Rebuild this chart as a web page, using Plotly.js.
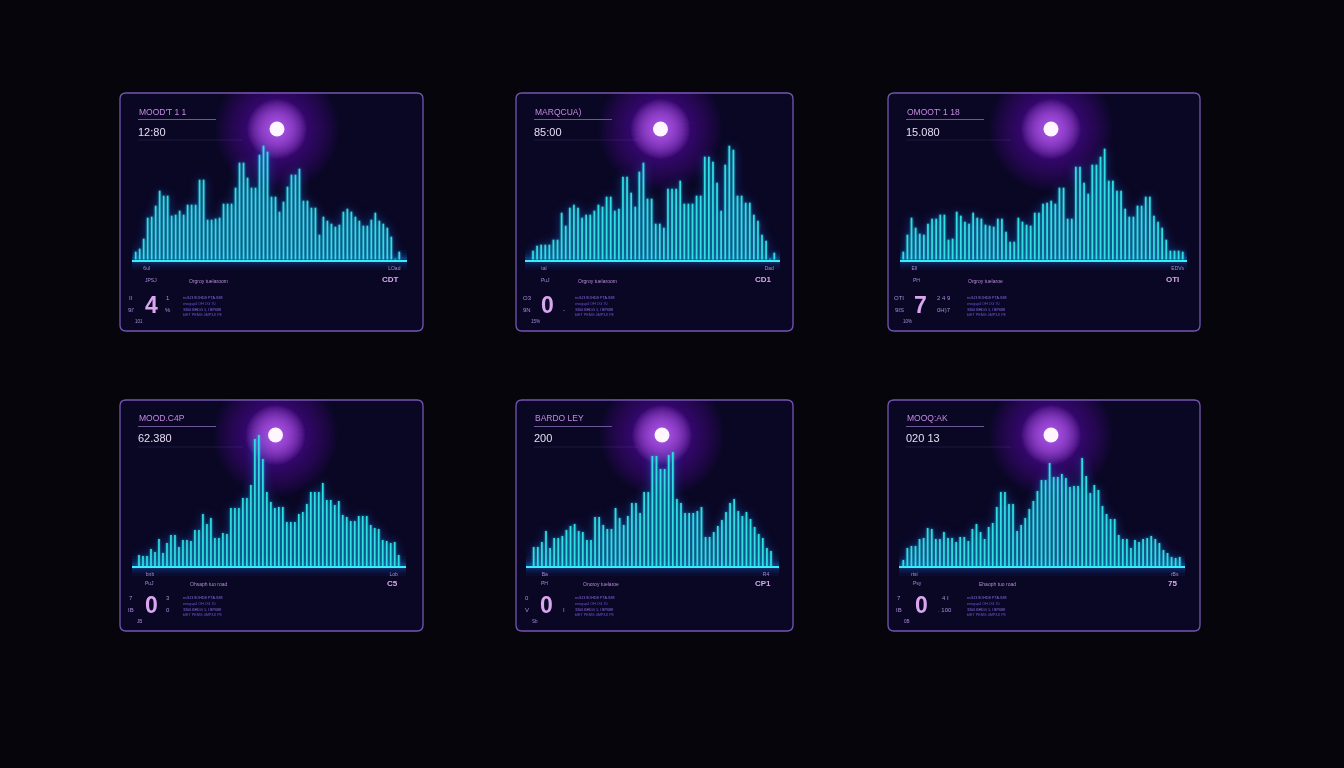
<!DOCTYPE html>
<html><head><meta charset="utf-8">
<script src="https://cdn.plot.ly/plotly-3.0.1.min.js"></script>
<style>
html,body{margin:0;padding:0;background:#06050b;overflow:hidden}
#chart{width:1344px;height:768px}
.subplot:not(.xy) .barlayer{filter:drop-shadow(0 0 1px rgba(40,230,240,.7)) drop-shadow(0 0 5px rgba(20,120,250,.6))}
</style></head><body><div id="chart"></div>
<script>
// ---- values ----
const seriesA=[8,11,21,42,43,54,69,64,64,44,45,49,45,55,55,55,80,80,40,40,41,42,56,56,56,72,97,97,82,72,72,105,114,108,63,63,48,58,73,85,85,91,59,59,52,52,25,43,39,36,33,35,48,51,48,43,39,34,34,40,47,39,36,32,23,1,8];
const seriesB=[9,14,15,15,15,20,20,47,34,52,55,52,42,45,45,49,55,53,63,63,49,51,83,83,67,53,88,97,61,61,36,36,32,71,71,71,79,56,56,56,64,64,103,103,98,77,49,95,114,110,64,64,57,57,45,39,25,19,1,7];
const seriesC=[8,25,42,32,26,25,36,41,41,45,45,20,21,48,44,38,36,47,42,41,35,34,33,41,41,28,18,18,42,38,35,34,47,47,56,57,59,56,72,72,41,41,93,93,77,66,95,95,103,111,79,79,69,69,51,43,43,54,54,63,63,44,38,32,20,9,9,9,8];
const seriesD=[11,10,10,17,14,27,13,23,31,31,19,26,26,25,36,36,52,42,48,28,28,33,32,58,58,58,68,68,81,127,131,107,74,64,58,59,59,44,44,44,52,54,62,74,74,74,83,66,66,61,65,51,49,45,45,50,50,50,41,38,37,26,25,23,24,11];
const seriesE=[19,19,24,35,18,28,28,30,36,40,42,35,34,26,26,49,49,41,37,37,58,48,41,50,63,63,53,74,74,110,110,97,97,111,114,67,63,53,53,53,55,59,29,29,34,40,46,54,63,67,55,50,54,47,39,32,28,18,15];
const seriesF=[6,18,20,20,27,28,38,37,27,27,34,28,28,24,29,29,25,37,42,34,27,39,43,59,74,74,62,62,35,41,48,57,65,75,86,86,103,89,89,92,88,79,80,80,108,90,73,81,76,60,52,47,47,31,27,27,18,26,24,27,28,30,27,23,16,13,9,8,9];
const panelTitles=["MOOD'T 1 1","MARQCUA)","OMOOT' 1 18","MOOD.C4P","BARDO LEY","MOOQ:AK"];
const panelValues=["12:80","85:00","15.080","62.380","200","020 13"];
const bigDigits=["4","0","7","0","0","0"];
const centerLabels=["Orgroy tuelaroom","Orgroy tuelaroom","Orgroy tuelaroe","Ohsaph tuo road","Onoroy tuelaroe","Ehaoph tuo road"];
const leftTicks=["6ul","tal","Ell","bnb","Ba","rtsi"];
const rightTicks=["LOad","Dad","EDVs","Lob","R4","rBs"];
const leftSub=["JPSJ","PuJ","PH","PuJ","PH","Psy"];
const rightSub=["CDT","CD1","OTI","C5","CP1","75"];
const sideA=["II","O3","OTI","7","0","7"];
const sideB=["9I'","9N","9IS","IB","V","IB"];
const sideC=["1","","2 4 9","3","","4 I"];
const sideD=["%","-","0H)7","0","I",". 100"];
const footLabels=["101","15%","10%","JB","Sb","0B"];
const noteLines=["nsSJ3 8OHDB PTA.S88","enogsp4 OH OG 70","3306 BHDG 1, I BP688","bIET PEMG 0MP3JI P8"];
// ---------------------------------------

const series=[seriesA,seriesB,seriesC,seriesD,seriesE,seriesF];
const geo=[
 {box:[120,93,423,331],base:259.7,line:[132,407],bars:[135.7,399.3],orb:[277,129],cx:68,nx:62,dx:31,sx:48},
 {box:[516,93,793,331],base:259.7,line:[525,780],bars:[533,774.3],orb:[660.5,129],cx:61,nx:58,dx:31,sx:48},
 {box:[888,93,1200,331],base:259.7,line:[900,1187],bars:[903.3,1182.7],orb:[1051,129],cx:79,nx:78,dx:32,sx:56},
 {box:[120,400,423,631],base:566,line:[132,406],bars:[139,398.7],orb:[275.5,435],cx:69,nx:62,dx:31,sx:48},
 {box:[516,400,793,631],base:566,line:[526,779],bars:[533.7,771],orb:[662,435],cx:66,nx:58,dx:30,sx:48},
 {box:[888,400,1200,631],base:566,line:[899,1185],bars:[903.3,1179.7],orb:[1051,435],cx:90,nx:78,dx:33,sx:57}
];
const W=1344,H=768,BG='#06050b',CY='#2fdfe2',PINK='#dba6f0',LILAC='#a88cd8',NOTE='#6a55e0';
const FF='"Liberation Sans",sans-serif';
const traces=[],shapes=[],covers=[],ann=[];
const layout={width:W,height:H,margin:{l:0,r:0,t:0,b:0},paper_bgcolor:BG,plot_bgcolor:'rgba(0,0,0,0)',showlegend:false,barmode:'overlay',
 xaxis:{domain:[0,1],range:[0,W],visible:false,fixedrange:true},
 yaxis:{domain:[0,1],range:[H,0],visible:false,fixedrange:true}};
function txt(x,y,text,size,color,anchor,weight){
 ann.push({xref:'x',yref:'y',x:x,y:y,text:text,showarrow:false,xanchor:anchor||'left',yanchor:'middle',borderpad:0,
  font:{family:FF,size:size,color:color,weight:weight||400}});
}
function rrect(b,r){const [a,c,d,e]=b;return `M${a+r},${c}L${d-r},${c}Q${d},${c} ${d},${c+r}L${d},${e-r}Q${d},${e} ${d-r},${e}L${a+r},${e}Q${a},${e} ${a},${e-r}L${a},${c+r}Q${a},${c} ${a+r},${c}Z`;}
function hline(x0,x1,y,color,w){shapes.push({type:'line',layer:'below',xref:'x',yref:'y',x0:x0,x1:x1,y0:y,y1:y,line:{color:color,width:w}});}

geo.forEach((g,i)=>{
 const v=series[i],n=v.length,id=i+2,[bx0,by0,bx1,by1]=g.box,[lx0,lx1]=g.line,[f,l]=g.bars;
 const ppu=(l-f)/(n-1),r0=(lx0-f)/ppu,r1=(n-1)+(lx1-l)/ppu,ptop=g.base-150;
 layout['xaxis'+id]={domain:[lx0/W,lx1/W],range:[r0,r1],anchor:'y'+id,fixedrange:true,showgrid:false,zeroline:false,
  showline:true,linecolor:'#38eef0',linewidth:2,ticks:'outside',ticklen:2,tickcolor:'rgba(0,0,0,0)',
  tickmode:'array',tickvals:[11/ppu,(n-1)-5/ppu],ticktext:[leftTicks[i],rightTicks[i]],
  tickfont:{family:FF,size:5,color:LILAC}};
 layout['yaxis'+id]={domain:[1-g.base/H,1-ptop/H],range:[0,150],anchor:'x'+id,visible:false,fixedrange:true};
 const xs=v.map((_,k)=>k);
 traces.push({type:'bar',xaxis:'x'+id,yaxis:'y'+id,x:xs,y:v,width:0.42,marker:{color:CY,line:{width:0}},hoverinfo:'skip'});

 shapes.push({type:'path',layer:'below',xref:'x',yref:'y',path:rrect(g.box,6),fillcolor:'#0a0724',line:{width:0}});
 covers.push({type:'path',layer:'above',xref:'x',yref:'y',path:rrect(g.box,6),line:{color:'#7556b2',width:1.3}});
 [[20,.05],[14,.08],[9,.13],[5,.22]].forEach(([w,a])=>hline(lx0,lx1,g.base,`rgba(20,130,255,${a})`,w));
 const tx=bx0+18;
 hline(tx,tx+78,by0+26.5,'#6d5a94',1);
 hline(tx,tx+105,by0+47,'rgba(110,90,170,.3)',0.7);
 txt(tx,by0+(i<3?19:18),panelTitles[i],8.5,'#c58be0');
 txt(tx-1,by0+(i<3?39:38),panelValues[i],11,'#e6dcf2');
 const ly=g.base+(i<3?20:17);
 txt(bx0+24,ly,leftSub[i],5,LILAC);
 txt(bx0+g.cx,ly+1,centerLabels[i],5,'#b78ad8');
 txt(lx1-7,ly,rightSub[i],8,PINK,'right',700);
 const fy=by1;
 txt(bx0+g.dx,fy-26,bigDigits[i],23,PINK,'center',700);
 txt(bx0+11,fy-33,sideA[i],6,LILAC,'center');
 txt(bx0+11,fy-21,sideB[i],6,LILAC,'center');
 txt(bx0+g.sx,fy-33,sideC[i],6,LILAC,'center');
 txt(bx0+g.sx,fy-21,sideD[i],6,LILAC,'center');
 txt(bx0+19,fy-10,footLabels[i],4.5,LILAC,'center');
 noteLines.forEach((t,k)=>txt(bx0+g.nx,fy-33+k*5.8,t,3.7,k%2?NOTE:'#8a6ae0'));
});
// dark strips clip the orb halo at each panel's top edge; borders are drawn after them
const strips=[[0,92],[331.9,399]].map(([a,b])=>({type:'rect',layer:'above',xref:'x',yref:'y',x0:0,x1:W,y0:a,y1:b,fillcolor:BG,line:{width:0}}));

// overlay layer: glowing orbs (stacked translucent discs), drawn under the panel bars
const ox=geo.map(g=>g.orb[0]),oy=geo.map(g=>g.orb[1]);
const orbs=[];
function disc(size,color,op){orbs.push({type:'scatter',mode:'markers',x:ox,y:oy,opacity:op,marker:{size:size,color:color,line:{width:0}},hoverinfo:'skip'});}
for(let d=124;d>=24;d-=4)disc(d,'rgb(120,45,225)',0.032);
for(let d=60;d>=18;d-=2)disc(d,'rgb(200,110,255)',0.055);
disc(15,'#fff6ff',1);

layout.shapes=shapes.concat(strips,covers);layout.annotations=ann;
Plotly.newPlot('chart',orbs.concat(traces),layout,{displayModeBar:false,staticPlot:true});
</script></body></html>
